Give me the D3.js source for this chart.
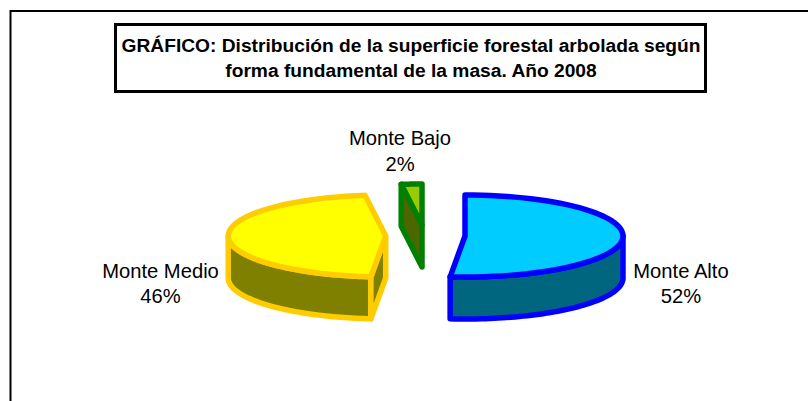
<!DOCTYPE html>
<html>
<head>
<meta charset="utf-8">
<script src="https://cdn.jsdelivr.net/npm/d3@7"></script>
<style>html,body{margin:0;padding:0;background:#fff}svg{display:block}</style>
</head>
<body>
<div id="chart"></div>
<script>
const categories = ["Monte Alto", "Monte Medio", "Monte Bajo"];
const shares = [51.5, 46.4, 2.1];
const titleLines = ["GRÁFICO: Distribución de la superficie forestal arbolada según", "forma fundamental de la masa. Año 2008"];

const W = 808, H = 401;
const font = "'Liberation Sans', Arial, sans-serif";
const looks = [
  {top:"#00CCFF", side:"#006680", line:"#0000FF", cx:465, cy:236, rx:158, lx:681, ly:277.5},
  {top:"#FFFF00", side:"#808000", line:"#FFCC00", cx:385.7, cy:236, rx:157.5, lx:160.5, ly:277.5},
  {top:"#99CC00", side:"#4D6600", line:"#008000", cx:422, cy:225, rx:158, lx:400, ly:145}
];
const RY = 41, DEPTH = 42, SW = 5.5;

const svg = d3.select("#chart").append("svg").attr("width", W).attr("height", H);
svg.append("rect").attr("width", W).attr("height", H).attr("fill", "#fff");

// outer frame: top and left edges reach the picture limits
svg.append("path").attr("d", d3.line()([[W, 11], [10.5, 11], [10.5, H]]))
  .attr("fill", "none").attr("stroke", "#000").attr("stroke-width", 2);

// title box
svg.append("rect").attr("x", 115.5).attr("y", 24.5).attr("width", 590).attr("height", 67)
  .attr("fill", "#fff").attr("stroke", "#000").attr("stroke-width", 3);
svg.selectAll("text.title").data(titleLines).join("text").attr("class", "title")
  .attr("x", 411).attr("y", (d, i) => 52 + i * 24.5)
  .attr("text-anchor", "middle").attr("font-family", font).attr("font-weight", "bold")
  .attr("font-size", 19.2).attr("fill", "#000").text(d => d);

const pie = d3.pie().sort(null).value(d => d).startAngle(0).endAngle(2 * Math.PI);
const arcs = pie(shares);
const line = d3.line();
const pct = d3.format(".0f");

function pt(l, a, dz) { return [l.cx + l.rx * Math.sin(a), l.cy - RY * Math.cos(a) + (dz || 0)]; }
function sample(a0, a1) { return d3.range(0, 61).map(i => a0 + (a1 - a0) * i / 60); }

const layer = svg.append("g").attr("stroke-linejoin", "round").attr("stroke-linecap", "round").attr("stroke-width", SW);
arcs.forEach((d, i) => {
  const l = looks[i], a0 = d.startAngle, a1 = d.endAngle, g = layer.append("g");
  const apex = [l.cx, l.cy], apexLow = [l.cx, l.cy + DEPTH];
  // front wall: the part of the rim that faces the viewer
  const f0 = Math.max(a0, Math.PI / 2), f1 = Math.min(a1, 3 * Math.PI / 2);
  if (f1 > f0) {
    const r = sample(f0, f1);
    g.append("path").attr("d", line(r.map(a => pt(l, a)).concat(r.slice().reverse().map(a => pt(l, a, DEPTH)))) + "Z")
      .attr("fill", l.side).attr("stroke", l.line);
  }
  // cut wall that turns towards the viewer
  if (i > 0) {
    g.append("path").attr("d", line([pt(l, a0), apex, apexLow, pt(l, a0, DEPTH)]) + "Z")
      .attr("fill", l.side).attr("stroke", l.line);
  }
  // top face
  g.append("path").attr("d", line(sample(a0, a1).map(a => pt(l, a)).concat([apex])) + "Z")
    .attr("fill", l.top).attr("stroke", l.line);
});

// labels
arcs.forEach((d, i) => {
  const l = looks[i];
  const t = svg.append("text").attr("text-anchor", "middle").attr("font-family", font)
    .attr("font-size", 20.2).attr("fill", "#000");
  t.append("tspan").attr("x", l.lx).attr("y", l.ly).text(categories[i]);
  t.append("tspan").attr("x", l.lx).attr("y", l.ly + 25.5).text(pct(d.data) + "%");
});
</script>
</body>
</html>
